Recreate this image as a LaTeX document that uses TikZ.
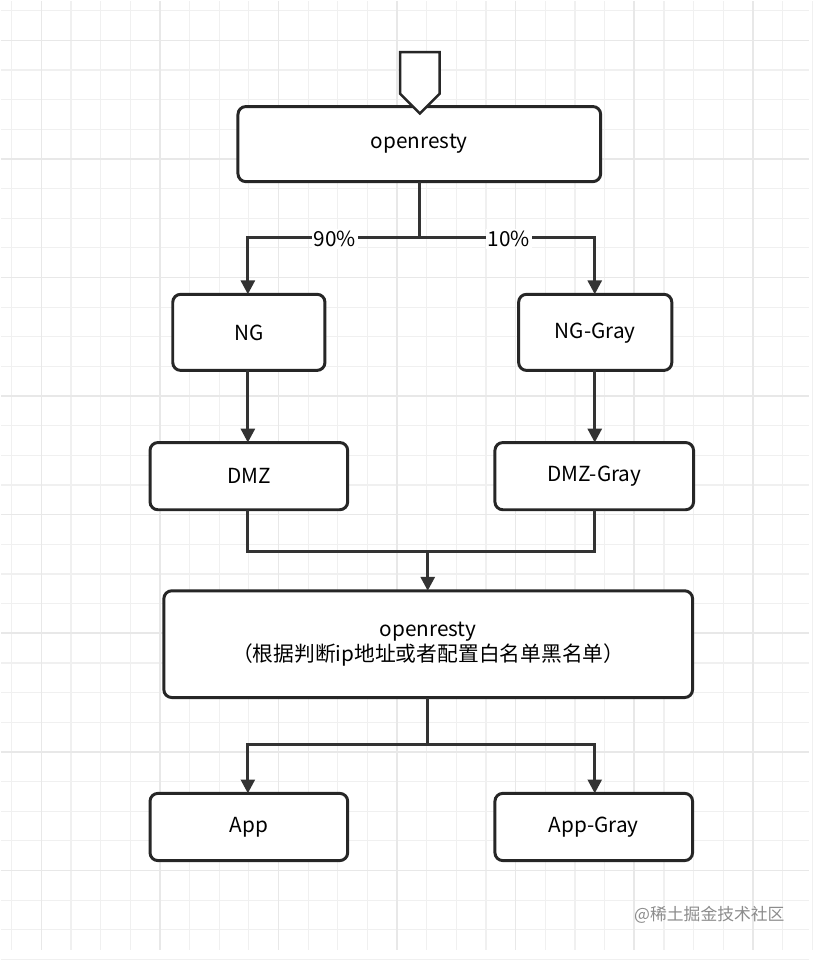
\documentclass[tikz,border=0pt]{standalone}
\usepackage{fontspec}
\setmainfont{Noto Sans CJK SC}
\usetikzlibrary{arrows.meta,shapes.arrows}
\begin{document}
\begin{tikzpicture}[x=1pt,y=-1pt,
  box/.style={draw=black!85,line width=3pt,rounded corners=8pt,fill=white},
  lbl/.style={font=\fontsize{21}{26}\selectfont,align=center},
  ln/.style={draw=black!80,line width=3pt},
  arr/.style={ln,-{Triangle[length=14pt,width=14pt]}}]
\fill[white] (0,0) rectangle (818,960);
\foreach \i in {0,...,27}{\draw[black!6,line width=1.2pt] (11+30*\i,0) -- (11+30*\i,960);}
\foreach \i in {0,...,32}{\draw[black!6,line width=1.2pt] (0,10+30*\i) -- (818,10+30*\i);}
\foreach \i in {0,...,6}{\draw[black!9,line width=1.6pt] (41+120*\i,0) -- (41+120*\i,960);}
\foreach \i in {0,...,7}{\draw[black!9,line width=1.6pt] (0,40+120*\i) -- (818,40+120*\i);}
% boxes
\draw[box] (240,107) rectangle (607,183); \node[lbl] (top) at (423.5,145) {openresty};
\draw[box] (174,297) rectangle (328,374); \node[lbl] (ng) at (251,336) {NG};
\draw[box] (524,297) rectangle (679,374); \node[lbl] (ngg) at (601.5,336) {NG-Gray};
\draw[box] (151,447) rectangle (351,515); \node[lbl] (dmz) at (251,481) {DMZ};
\draw[box] (500,447) rectangle (701,515); \node[lbl] (dmzg) at (600.5,481) {DMZ-Gray};
\draw[box] (165,597) rectangle (700,705); \node[lbl] (mid) at (432.5,651) {openresty\\（根据判断ip地址或者配置白名单黑名单）};
\draw[box] (151,802) rectangle (351,870); \node[lbl] (app) at (251,836) {App};
\draw[box] (500,802) rectangle (700,870); \node[lbl] (appg) at (600,836) {App-Gray};
% entry arrow
\coordinate (in) at (424,42);
\node[single arrow,draw=black!85,line width=2.5pt,fill=white,shape border rotate=270,minimum height=62pt,minimum width=40pt,single arrow head extend=0pt,inner sep=4pt] (entry) at (424,73) {};
% split
\coordinate (s) at (424,240);
\draw[ln] (424,183) -- (s);
\draw[arr] (s) -- (250,240) -- (250,297);
\draw[arr] (s) -- (601,240) -- (601,297);
\node[lbl,fill=white,inner sep=2pt] (p90) at (338,241) {90\%};
\node[lbl,fill=white,inner sep=2pt] (p10) at (514,241) {10\%};
\draw[arr] (250,374) -- (250,447);
\draw[arr] (601,374) -- (601,447);
\draw[ln] (250,515) -- (250,557) -- (601,557) -- (601,515);
\draw[arr] (432,557) -- (432,597);
\draw[ln] (432,705) -- (432,753);
\draw[arr] (432,753) -- (250,753) -- (250,802);
\draw[arr] (432,753) -- (601,753) -- (601,802);
\node[font=\fontsize{17}{20}\selectfont,text=black!45] (wm) at (717,925) {@稀土掘金技术社区};
\end{tikzpicture}
\end{document}
